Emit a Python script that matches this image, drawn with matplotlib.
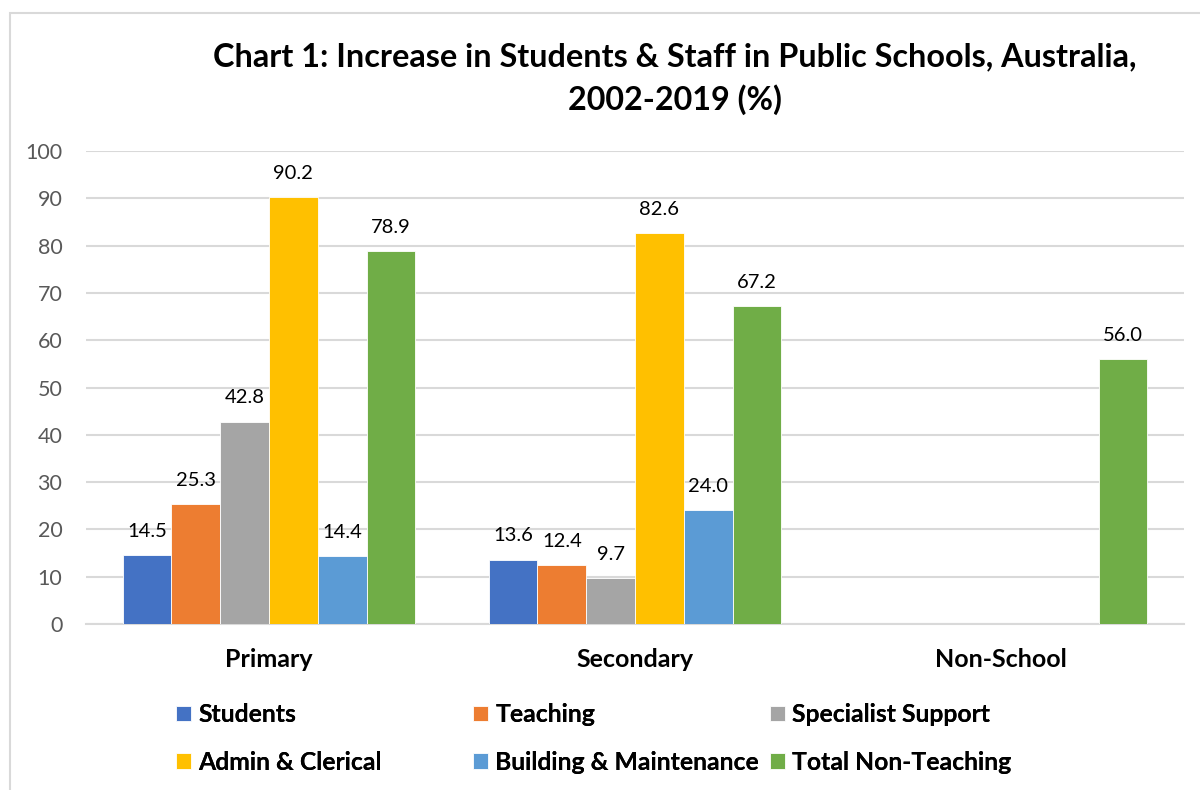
import numpy as np
import matplotlib
matplotlib.use("Agg")
import matplotlib.pyplot as plt
from matplotlib.patches import Rectangle

# increase 2002-2019 in percent, per sector
sectors = ["Primary", "Secondary", "Non-School"]
series = ["Students", "Teaching", "Specialist Support",
          "Admin & Clerical", "Building & Maintenance", "Total Non-Teaching"]
students     = [14.5, 13.6, np.nan]
teaching     = [25.3, 12.4, np.nan]
specialist   = [42.8, 9.7, np.nan]
admin        = [90.2, 82.6, np.nan]
building     = [14.4, 24.0, np.nan]
non_teaching = [78.9, 67.2, 56.0]
yticks = list(range(0, 101, 10))

colours = ["#4472C4", "#ED7D31", "#A5A5A5", "#FFC000", "#5B9BD5", "#70AD47"]
values = [students, teaching, specialist, admin, building, non_teaching]

plt.rcParams["font.family"] = ["Lato", "DejaVu Sans"]

fig = plt.figure(figsize=(12, 7.9), dpi=100)
ax = fig.add_axes([86/1200, 1-624/790, (1184-86)/1200, (624-151)/790])

x = np.arange(len(sectors))
width = 0.8 / len(series)
handles = []
for i, (name, vals, col) in enumerate(zip(series, values, colours)):
    pos = x - 0.4 + width*(i + 0.5)
    vals = np.array(vals, dtype=float)
    ok = ~np.isnan(vals)
    b = ax.bar(pos[ok], vals[ok], width, color=col, edgecolor="white",
               linewidth=0.6, label=name, zorder=3)
    handles.append(b)
    for px, v in zip(pos[ok], vals[ok]):
        ax.annotate("{:.1f}".format(v), (px, v), xytext=(0, 11),
                    textcoords="offset points", ha="center", va="bottom",
                    fontsize=14.5, color="black")

ax.set_xlim(-0.5, 2.5)
ax.set_ylim(0, 100)
ax.set_yticks(yticks)
ax.set_xticks(x)
ax.set_xticklabels(sectors, fontsize=18, fontweight="bold")
ax.tick_params(axis="y", length=0, pad=17, labelsize=15.5, labelcolor="#595959")
ax.tick_params(axis="x", length=0, pad=17)
ax.grid(axis="y", color="#d9d9d9", linewidth=1.5, zorder=0)
for s in ["top", "right", "left"]:
    ax.spines[s].set_visible(False)
ax.spines["bottom"].set_color("#d9d9d9")
ax.spines["bottom"].set_linewidth(1.5)

fig.text(675/1200, 1-57/790, "Chart 1: Increase in Students & Staff in Public Schools, Australia,",
         ha="center", va="center", fontsize=23.3, fontweight="bold")
fig.text(675/1200, 1-100/790, "2002-2019 (%)",
         ha="center", va="center", fontsize=23.3, fontweight="bold")

# legend laid out as three fixed columns, two rows each
col_x = [176, 473, 770]
for c in range(3):
    hs = [handles[c], handles[c + 3]]
    leg = fig.legend(hs, [series[c], series[c + 3]], loc="center left",
                     bbox_to_anchor=(col_x[c]/1200, 1-738.5/790),
                     frameon=False, borderpad=0, borderaxespad=0,
                     handlelength=0.6, handleheight=0.6, handletextpad=0.3,
                     labelspacing=1.0, prop={"size": 17.8, "weight": "bold"})
    fig.add_artist(leg)

# light frame round the chart
fig.patches.append(Rectangle((10/1200, -0.05), 1.2, 1-13/790+0.05,
                             transform=fig.transFigure, fill=False,
                             edgecolor="#d9d9d9", linewidth=1.5))

fig.savefig("out.png", dpi=100)
